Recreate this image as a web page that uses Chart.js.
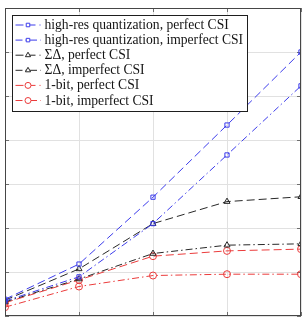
<!DOCTYPE html>
<html>
<head>
<meta charset="utf-8">
<script src="https://cdn.jsdelivr.net/npm/chart.js@4/dist/chart.umd.min.js"></script>
<style>
html,body{margin:0;padding:0;background:#fff;}
#wrap{width:306px;height:321px;position:relative;}
</style>
</head>
<body>
<div id="wrap"><canvas id="c" width="306" height="321"></canvas></div>
<script>
const xValues = [0, 1, 2, 3, 4];
const seriesLabels = [
  'high-res quantization, perfect CSI',
  'high-res quantization, imperfect CSI',
  'ΣΔ, perfect CSI',
  'ΣΔ, imperfect CSI',
  '1-bit, perfect CSI',
  '1-bit, imperfect CSI'
];
const hiresPerfect   = [0.38, 1.18, 2.70, 4.34, 6.00];
const hiresImperfect = [0.34, 0.89, 2.10, 3.66, 5.23];
const sdPerfect      = [0.36, 1.07, 2.10, 2.60, 2.71];
const sdImperfect    = [0.32, 0.84, 1.42, 1.61, 1.64];
const oneBitPerfect  = [0.30, 0.82, 1.36, 1.48, 1.52];
const oneBitImperfect= [0.20, 0.67, 0.92, 0.95, 0.95];
const yTicks = [0, 1, 2, 3, 4, 5, 6, 7];

const BLUE = 'rgb(60,60,235)';
const BLACK = 'rgb(40,40,40)';
const RED = 'rgb(235,60,60)';
const DASH = [8, 4];
const DASHDOT = [7, 3, 1.5, 3];

function mk(label, values, color, dash, pstyle, r) {
  return {
    label: label,
    data: xValues.map((x, i) => ({x: x, y: values[i]})),
    borderColor: color,
    backgroundColor: 'rgba(0,0,0,0)',
    borderWidth: 1,
    borderDash: dash,
    pointStyle: pstyle,
    pointRadius: r,
    pointBorderColor: color,
    pointBackgroundColor: 'rgba(0,0,0,0)',
    pointBorderWidth: 1,
    tension: 0
  };
}

const datasets = [
  mk(seriesLabels[0], hiresPerfect, BLUE, DASH, 'rect', 3),
  mk(seriesLabels[1], hiresImperfect, BLUE, DASHDOT, 'rect', 3),
  mk(seriesLabels[2], sdPerfect, BLACK, DASH, 'triangle', 3.5),
  mk(seriesLabels[3], sdImperfect, BLACK, DASHDOT, 'triangle', 3.5),
  mk(seriesLabels[4], oneBitPerfect, RED, DASH, 'circle', 3.5),
  mk(seriesLabels[5], oneBitImperfect, RED, DASHDOT, 'circle', 3.5)
];

const frame = {
  id: 'frame',
  beforeDatasetsDraw(chart) {
    const {ctx, chartArea: a, scales} = chart;
    ctx.save();
    ctx.strokeStyle = 'rgb(110,110,110)';
    ctx.lineWidth = 1;
    ctx.setLineDash([]);
    ctx.beginPath();
    const tl = 4;
    scales.y.ticks.forEach(t => {
      const y = Math.round(scales.y.getPixelForValue(t.value)) + 0.5;
      ctx.moveTo(a.left, y); ctx.lineTo(a.left + tl, y);
      ctx.moveTo(a.right, y); ctx.lineTo(a.right - tl, y);
    });
    scales.x.ticks.forEach(t => {
      const x = Math.round(scales.x.getPixelForValue(t.value)) + 0.5;
      ctx.moveTo(x, a.top); ctx.lineTo(x, a.top + tl);
      ctx.moveTo(x, a.bottom); ctx.lineTo(x, a.bottom - tl);
    });
    ctx.stroke();
    ctx.restore();
  },
  afterDraw(chart) {
    const {ctx, chartArea: a} = chart;
    ctx.save();
    ctx.strokeStyle = 'rgb(70,70,70)';
    ctx.lineWidth = 1;
    ctx.setLineDash([]);
    ctx.strokeRect(Math.round(a.left) + 0.5, Math.round(a.top) + 0.5,
                   Math.round(a.right - a.left) - 1, Math.round(a.bottom - a.top) - 1);
    // legend
    const bx = a.left + 7.5, by = a.top + 7.5, bw = 235, bh = 96;
    ctx.fillStyle = '#fff';
    ctx.fillRect(bx, by, bw, bh);
    ctx.strokeStyle = 'rgb(30,30,30)';
    ctx.strokeRect(bx, by, bw, bh);
    ctx.font = '13.6px "Liberation Serif", serif';
    ctx.textBaseline = 'middle';
    chart.data.datasets.forEach((ds, i) => {
      const cy = by + 9.5 + i * 15.1;
      ctx.strokeStyle = ds.borderColor;
      ctx.lineWidth = 1;
      ctx.setLineDash(ds.borderDash);
      ctx.beginPath();
      ctx.moveTo(bx + 3, cy); ctx.lineTo(bx + 28, cy);
      ctx.stroke();
      ctx.setLineDash([]);
      ctx.fillStyle = '#fff';
      ctx.strokeStyle = ds.borderColor;
      Chart.helpers.drawPoint(ctx, {pointStyle: ds.pointStyle, radius: ds.pointRadius - 0.5, borderWidth: 1, rotation: 0}, bx + 15.5, cy);
      ctx.fillStyle = 'rgb(20,20,20)';
      ctx.fillText(ds.label, bx + 32, cy + 0.5);
    });
    ctx.restore();
  }
};

new Chart(document.getElementById('c'), {
  type: 'line',
  data: {datasets: datasets},
  options: {
    responsive: false,
    animation: false,
    events: [],
    layout: {padding: {left: 4, right: 2, top: 8, bottom: 4}},
    plugins: {legend: {display: false}, tooltip: {enabled: false}},
    scales: {
      x: {
        type: 'linear', min: 0, max: 4,
        ticks: {display: false, stepSize: 1},
        grid: {color: 'rgb(225,225,225)', drawTicks: false},
        border: {display: false}
      },
      y: {
        type: 'linear', min: 0, max: 7,
        afterBuildTicks: s => { s.ticks = yTicks.map(v => ({value: v})); },
        ticks: {display: false},
        grid: {color: 'rgb(225,225,225)', drawTicks: false},
        border: {display: false}
      }
    }
  },
  plugins: [frame]
});
</script>
</body>
</html>
